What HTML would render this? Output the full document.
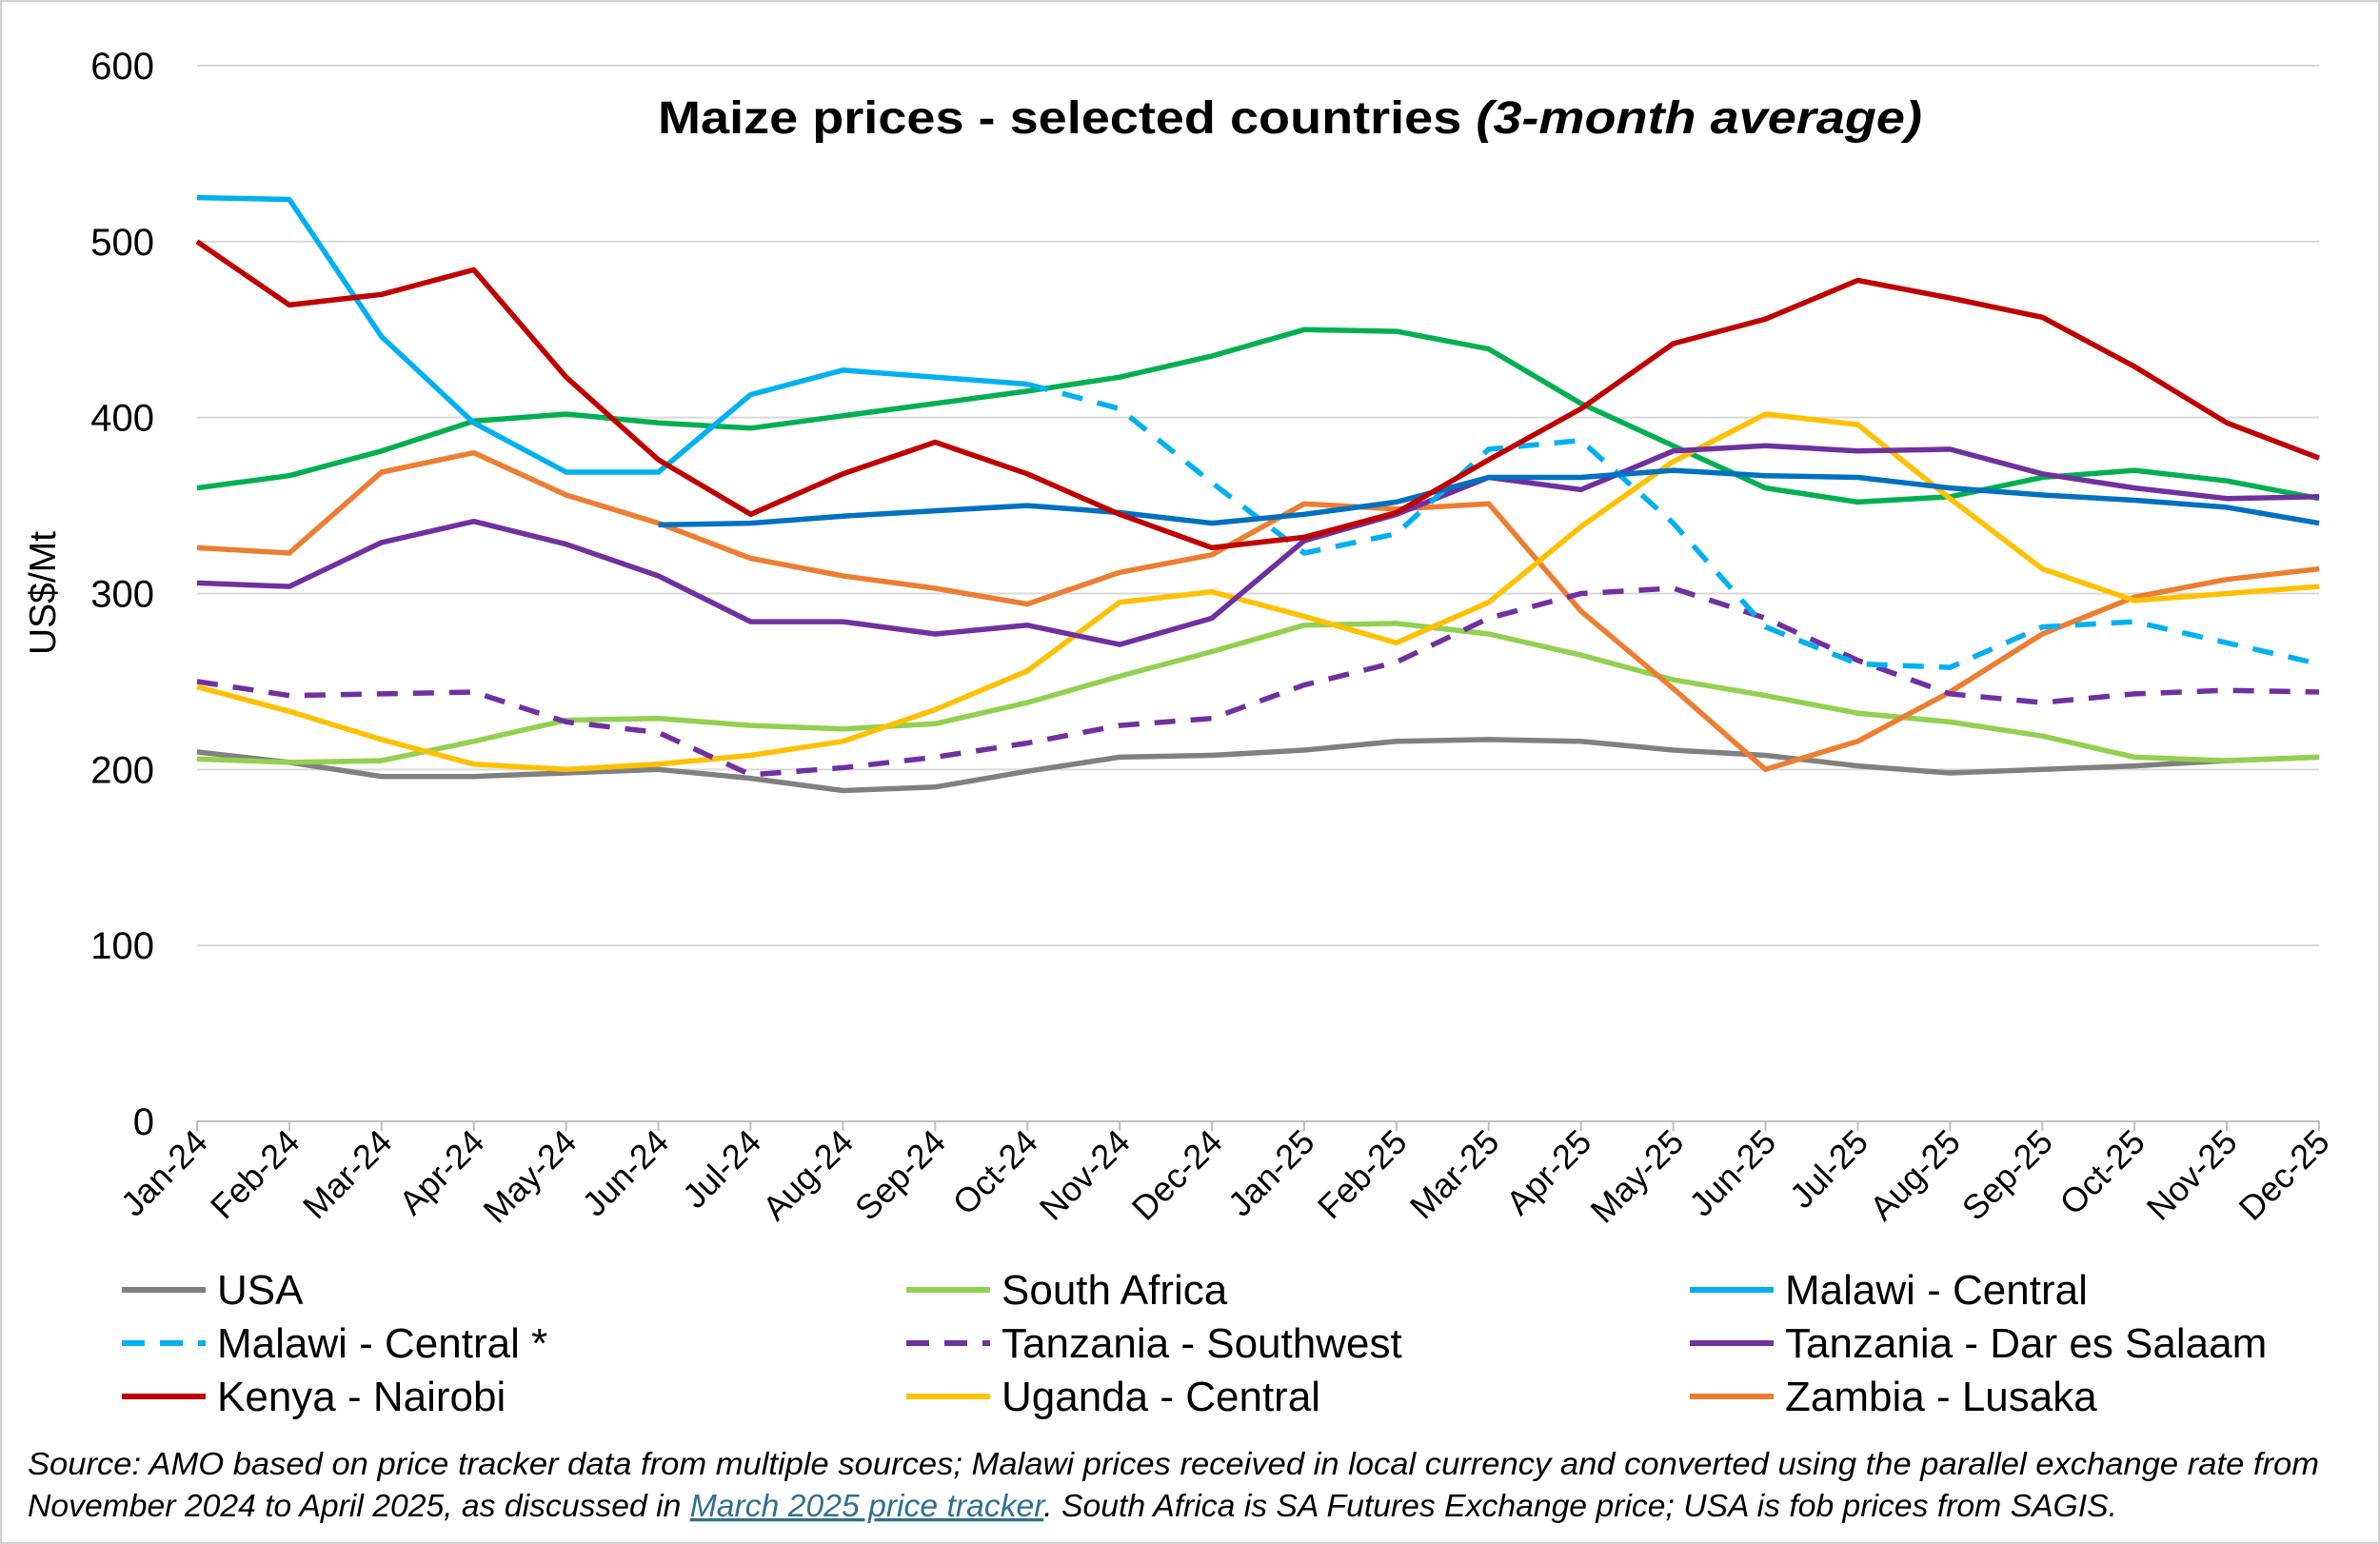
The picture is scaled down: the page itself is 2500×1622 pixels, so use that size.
<!DOCTYPE html>
<html><head><meta charset="utf-8">
<style>
html,body{margin:0;padding:0;background:#fff;}
svg{display:block;font-family:"Liberation Sans",Arial,sans-serif;}
</style></head>
<body>
<svg id="chart" width="2500" height="1622" viewBox="0 0 2500 1622">
<rect x="1" y="1" width="2498" height="1620" fill="#fff" stroke="#d0d0d0" stroke-width="2"/>
<text x="691" y="140" textLength="1328" lengthAdjust="spacingAndGlyphs" font-size="48" font-weight="bold" fill="#000">Maize prices - selected countries <tspan font-style="italic">(3-month average)</tspan></text>
<text transform="translate(58,623) rotate(-90)" text-anchor="middle" font-size="39" fill="#000">US$/Mt</text>
<g id="grid"></g><g id="series"></g><g id="xlabels"></g><g id="legend"></g>
<text x="29" y="1549" textLength="2407" lengthAdjust="spacingAndGlyphs" font-size="33" font-style="italic" fill="#000">Source: AMO based on price tracker data from multiple sources; Malawi prices received in local currency and converted using the parallel exchange rate from</text>
<text x="29" y="1593" textLength="2195" lengthAdjust="spacingAndGlyphs" font-size="33" font-style="italic" fill="#000">November 2024 to April 2025, as discussed in <tspan fill="#2f6f8f" text-decoration="underline">March 2025 price tracker</tspan>. South Africa is SA Futures Exchange price; USA is fob prices from SAGIS.</text>
</svg>
<script>
const months = ["Jan-24","Feb-24","Mar-24","Apr-24","May-24","Jun-24","Jul-24","Aug-24","Sep-24","Oct-24","Nov-24","Dec-24","Jan-25","Feb-25","Mar-25","Apr-25","May-25","Jun-25","Jul-25","Aug-25","Sep-25","Oct-25","Nov-25","Dec-25"];
const yTicks = [0,100,200,300,400,500,600];
const usa = [210,204,196,196,198,200,195,188,190,199,207,208,211,216,217,216,211,208,202,198,200,202,205,207];
const southAfrica = [206,204,205,216,228,229,225,223,226,238,253,267,282,283,277,265,251,242,232,227,219,207,205,207];
const malawiCentral = [525,524,446,397,369,369,413,427,423,419,null,null,null,null,null,null,null,null,null,null,null,null,null,null];
const malawiCentralStar = [null,null,null,null,null,null,null,null,null,419,405,363,323,334,382,387,340,281,260,258,281,284,272,260];
const tanzaniaSW = [250,242,243,244,227,221,197,201,207,215,225,229,248,261,286,300,303,286,262,243,238,243,245,244];
const tanzaniaDSM = [306,304,329,341,328,310,284,284,277,282,271,286,330,345,366,359,381,384,381,382,368,360,354,355];
const kenya = [500,464,470,484,423,376,345,368,386,368,345,326,332,346,376,405,442,456,478,468,457,429,397,377];
const uganda = [247,233,217,203,200,203,208,216,234,256,295,301,287,272,295,338,375,402,396,354,314,296,300,304];
const zambia = [326,323,369,380,356,340,320,310,303,294,312,322,351,348,351,290,246,200,216,244,277,298,308,314];
const darkGreen = [360,367,381,398,402,397,394,401,408,415,423,435,450,449,439,408,384,360,352,355,366,370,364,354];
const darkBlue = [null,null,null,null,null,339,340,344,347,350,346,340,345,352,366,366,370,367,366,360,356,353,349,340];

const NS="http://www.w3.org/2000/svg";
const X0=207,X1=2436,Y0=1178,Y600=69;
const xs=i=>X0+(X1-X0)*i/(months.length-1);
const ys=v=>Y0-(Y0-Y600)*v/600;
function mk(tag,attrs,parent){const e=document.createElementNS(NS,tag);for(const k in attrs)e.setAttribute(k,attrs[k]);parent.appendChild(e);return e;}
const grid=document.getElementById('grid');
yTicks.forEach(t=>{
  const l=mk('line',{x1:X0,x2:X1,y1:ys(t),y2:ys(t),stroke:t===0?'#bfbfbf':'#d9d9d9','stroke-width':2},grid);
  
  
  const tx=mk('text',{x:162,y:ys(t)+14,'text-anchor':'end','font-size':40,fill:'#000'},grid);
  tx.textContent=t;
  
  
});
const xl=document.getElementById('xlabels');
months.forEach((m,i)=>{
  const tk=mk('line',{x1:xs(i),x2:xs(i),y1:Y0,y2:Y0+10,stroke:'#bfbfbf','stroke-width':2},xl);
  
  
  const t=mk('text',{x:0,y:0,'text-anchor':'end','font-size':36,fill:'#000',transform:`translate(${xs(i)+13},${Y0+24}) rotate(-45)`},xl);
  t.textContent=m;
  
  
});
const series=[
 {name:'usa',data:usa,color:'#808080',dash:null},
 {name:'south-africa',data:southAfrica,color:'#92d050',dash:null},
 {name:'dark-green',data:darkGreen,color:'#00b050',dash:null},
 {name:'zambia',data:zambia,color:'#ed7d31',dash:null},
 {name:'uganda',data:uganda,color:'#ffc000',dash:null},
 {name:'tanzania-dar',data:tanzaniaDSM,color:'#7030a0',dash:null},
 {name:'tanzania-sw',data:tanzaniaSW,color:'#7030a0',dash:'22 16'},
 {name:'malawi-central',data:malawiCentral,color:'#00b0f0',dash:null},
 {name:'malawi-central-star',data:malawiCentralStar,color:'#00b0f0',dash:'22 16'},
 {name:'dark-blue',data:darkBlue,color:'#0070c0',dash:null},
 {name:'kenya',data:kenya,color:'#c00000',dash:null}
];
const sg=document.getElementById('series');
series.forEach(s=>{
  let d='',pen=false;
  s.data.forEach((v,i)=>{if(v==null){pen=false;return;}d+=(pen?'L':'M')+xs(i).toFixed(1)+','+ys(v).toFixed(1);pen=true;});
  const p=mk('path',{d:d,fill:'none',stroke:s.color,'stroke-width':5.5,'stroke-linejoin':'round'},sg);
  if(s.dash)p.setAttribute('stroke-dasharray',s.dash);
  
  
});
const legendItems=[
 ['USA','#808080',null],['South Africa','#92d050',null],['Malawi - Central','#00b0f0',null],
 ['Malawi - Central *','#00b0f0','22 16'],['Tanzania -  Southwest','#7030a0','22 16'],['Tanzania - Dar es Salaam','#7030a0',null],
 ['Kenya - Nairobi','#c00000',null],['Uganda - Central','#ffc000',null],['Zambia - Lusaka','#ed7d31',null]];
const colX=[128,952,1775],rowY=[1355,1411,1467];
const lg=document.getElementById('legend');
legendItems.forEach((it,k)=>{
  const cx=colX[k%3],cy=rowY[Math.floor(k/3)];
  const g=mk('g',{},lg);
  
  
  const l=mk('line',{x1:cx,x2:cx+88,y1:cy,y2:cy,stroke:it[1],'stroke-width':6},g);
  if(it[2])l.setAttribute('stroke-dasharray','24 16');
  const t=mk('text',{x:cx+100,y:cy+15,'font-size':44,fill:'#000','xml:space':'preserve'},g);
  t.textContent=it[0];
});
</script>
</body></html>
